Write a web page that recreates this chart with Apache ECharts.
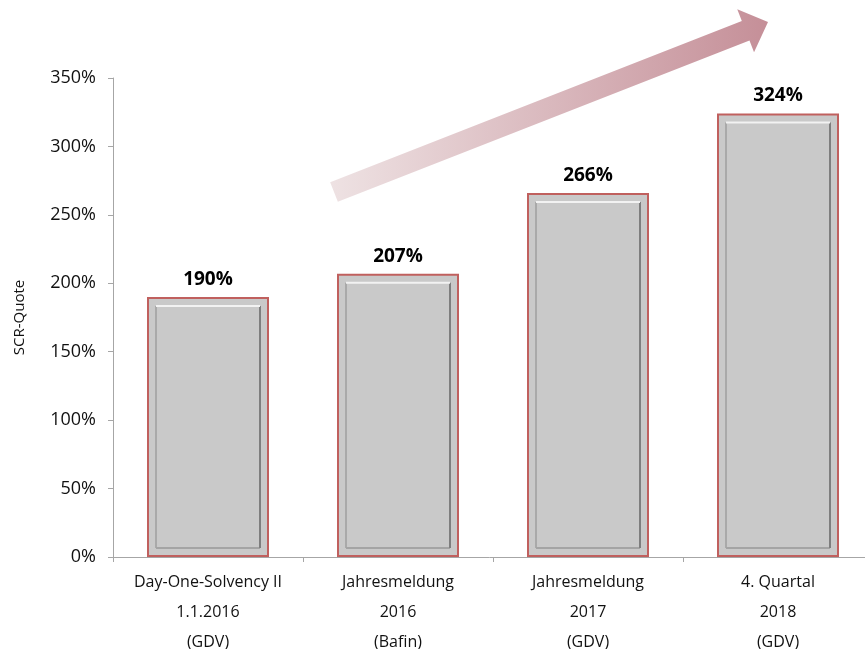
<!DOCTYPE html>
<html>
<head>
<meta charset="utf-8">
<script src="https://cdn.jsdelivr.net/npm/echarts@6/dist/echarts.min.js"></script>
<style>
  html, body { margin: 0; padding: 0; background: #fff; }
  #chart { width: 865px; height: 649px; }
</style>
</head>
<body>
<div id="chart"></div>
<script>
// Kategorien und Werte
const categories = [
  'Day-One-Solvency II\n1.1.2016\n(GDV)',
  'Jahresmeldung\n2016\n(Bafin)',
  'Jahresmeldung\n2017\n(GDV)',
  '4. Quartal\n2018\n(GDV)'
]
const scrQuote = [190, 207, 266, 324]
const yTicks = [0, 50, 100, 150, 200, 250, 300, 350]

const chart = echarts.init(document.getElementById('chart'))

// Pfeil (Dekoration) als Polygon berechnen
const arrowTail = [334, 192]
const arrowTip = [768, 22]
const shaftW = 21, headW = 46, headL = 24
function arrowPoints () {
  const dx = arrowTip[0] - arrowTail[0], dy = arrowTip[1] - arrowTail[1]
  const len = Math.sqrt(dx * dx + dy * dy)
  const ux = dx / len, uy = dy / len
  const nx = -uy, ny = ux
  const bx = arrowTip[0] - ux * headL, by = arrowTip[1] - uy * headL
  const p = (x, y, w) => [x + nx * w / 2, y + ny * w / 2]
  const q = (x, y, w) => [x - nx * w / 2, y - ny * w / 2]
  return [
    p(arrowTail[0], arrowTail[1], shaftW),
    p(bx, by, shaftW),
    p(bx, by, headW),
    arrowTip.slice(),
    q(bx, by, headW),
    q(bx, by, shaftW),
    q(arrowTail[0], arrowTail[1], shaftW)
  ]
}

const inset = 9
const barW = 122

const option = {
  animation: false,
  grid: { left: 113, right: -8, top: 78, bottom: 92, outerBoundsMode: 'none' },
  xAxis: {
    type: 'category',
    data: categories,
    axisLine: { lineStyle: { color: '#a6a6a6', width: 1 } },
    axisTick: { show: true, length: 5, lineStyle: { color: '#a6a6a6' } },
    axisLabel: {
      color: '#111',
      fontFamily: 'Open Sans',
      fontSize: 16,
      lineHeight: 30,
      margin: 10,
      interval: 0
    }
  },
  yAxis: {
    type: 'value',
    min: 0,
    max: 350,
    interval: 50,
    name: 'SCR-Quote',
    nameLocation: 'middle',
    nameGap: 86,
    nameTextStyle: { color: '#111', fontFamily: 'Open Sans', fontSize: 15 },
    splitLine: { show: false },
    axisLine: { show: true, lineStyle: { color: '#a6a6a6', width: 1 } },
    axisTick: { show: true, length: 5, lineStyle: { color: '#a6a6a6' } },
    axisLabel: {
      color: '#111',
      fontFamily: 'Open Sans',
      fontSize: 18,
      margin: 17,
      formatter: v => v + '%'
    }
  },
  series: [
    {
      type: 'bar',
      data: scrQuote,
      barWidth: barW,
      itemStyle: {
        color: '#c9c9c9',
        borderColor: '#c0605e',
        borderWidth: 2
      },
      label: {
        show: true,
        position: 'top',
        distance: 8,
        color: '#000',
        fontFamily: 'Open Sans',
        fontWeight: 'bold',
        fontSize: 19,
        formatter: p => p.value + '%'
      },
      z: 2
    },
    {
      // Rahmen-Relief innerhalb der Balken
      type: 'custom',
      data: scrQuote.map((v, i) => [i, v]),
      z: 3,
      silent: true,
      renderItem: (params, api) => {
        const top = api.coord([api.value(0), api.value(1)])
        const base = api.coord([api.value(0), 0])
        const x0 = top[0] - barW / 2 + inset
        const x1 = top[0] + barW / 2 - inset
        const y0 = top[1] + inset
        const y1 = base[1] - inset
        return {
          type: 'group',
          children: [
            { type: 'line', shape: { x1: x0, y1: y0, x2: x0, y2: y1 }, style: { stroke: '#a9a9a9', lineWidth: 2 } },
            { type: 'line', shape: { x1: x0, y1: y1, x2: x1, y2: y1 }, style: { stroke: '#a4a4a4', lineWidth: 2 } },
            { type: 'line', shape: { x1: x1, y1: y0, x2: x1, y2: y1 }, style: { stroke: '#7e7e7e', lineWidth: 2 } },
            { type: 'line', shape: { x1: x0, y1: y0, x2: x1, y2: y0 }, style: { stroke: '#f2f2f2', lineWidth: 2 } }
          ]
        }
      }
    }
  ],
  graphic: [
    {
      type: 'polygon',
      shape: { points: arrowPoints() },
      style: {
        fill: new echarts.graphic.LinearGradient(0, 0, 1, 0, [
          { offset: 0, color: '#eee2e3' },
          { offset: 1, color: '#c58f98' }
        ])
      },
      z: 1
    }
  ]
}

chart.setOption(option)
</script>
</body>
</html>
